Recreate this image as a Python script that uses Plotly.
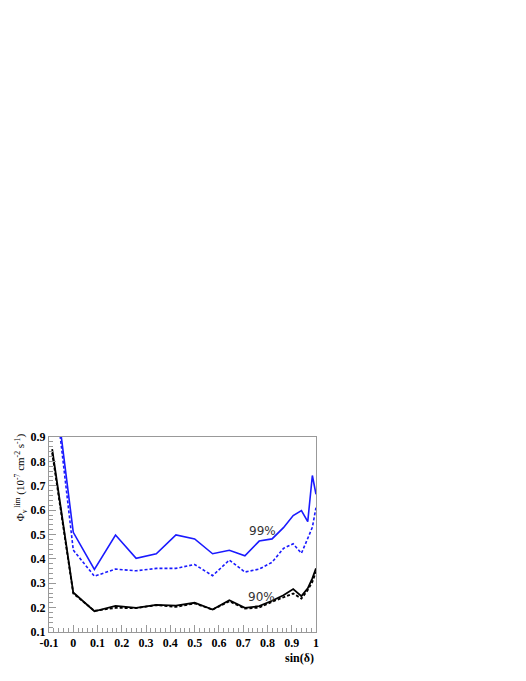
import plotly.graph_objects as go

sin_delta = [-0.087, 0.0, 0.087, 0.174, 0.259, 0.342, 0.423, 0.5, 0.574, 0.643,
             0.707, 0.766, 0.819, 0.866, 0.906, 0.940, 0.966, 0.985, 1.0]

lim99_solid = [1.20, 0.509, 0.357, 0.498, 0.402, 0.421, 0.498, 0.482, 0.421, 0.435,
               0.413, 0.473, 0.482, 0.528, 0.578, 0.598, 0.553, 0.742, 0.665]
lim99_dash = [1.19, 0.436, 0.329, 0.358, 0.351, 0.361, 0.361, 0.377, 0.331, 0.395,
              0.346, 0.358, 0.386, 0.443, 0.462, 0.423, 0.484, 0.53, 0.61]
lim90_solid = [0.85, 0.262, 0.185, 0.207, 0.199, 0.211, 0.208, 0.220, 0.192, 0.230,
               0.199, 0.206, 0.228, 0.251, 0.276, 0.247, 0.279, 0.32, 0.361]
lim90_dash = [0.835, 0.258, 0.187, 0.199, 0.198, 0.210, 0.203, 0.217, 0.192, 0.226,
              0.196, 0.200, 0.224, 0.244, 0.258, 0.237, 0.272, 0.306, 0.347]

x_ticks = [-0.1, 0, 0.1, 0.2, 0.3, 0.4, 0.5, 0.6, 0.7, 0.8, 0.9, 1]
x_ticklabels = ["-0.1", "0", "0.1", "0.2", "0.3", "0.4", "0.5", "0.6", "0.7", "0.8", "0.9", "1"]
y_ticks = [0.1, 0.2, 0.3, 0.4, 0.5, 0.6, 0.7, 0.8, 0.9]
y_ticklabels = ["0.1", "0.2", "0.3", "0.4", "0.5", "0.6", "0.7", "0.8", "0.9"]

BLUE = "#1a1aff"
fig = go.Figure()
fig.add_trace(go.Scatter(x=sin_delta, y=lim99_dash, mode="lines",
                         line=dict(color=BLUE, width=1.6, dash="3px,2px")))
fig.add_trace(go.Scatter(x=sin_delta, y=lim99_solid, mode="lines",
                         line=dict(color=BLUE, width=1.6)))
fig.add_trace(go.Scatter(x=sin_delta, y=lim90_dash, mode="lines",
                         line=dict(color="black", width=1.8, dash="3px,2px")))
fig.add_trace(go.Scatter(x=sin_delta, y=lim90_solid, mode="lines",
                         line=dict(color="black", width=1.8)))

tickfont = dict(family="Liberation Serif", size=12, color="black", weight="bold")
fig.update_xaxes(range=[-0.1, 1.0], tickvals=x_ticks, ticktext=x_ticklabels,
                 ticks="inside", ticklen=7, tickcolor="#999999", tickwidth=1,
                 minor=dict(dtick=0.02, tick0=0, ticks="inside", ticklen=4,
                            tickcolor="#999999"),
                 showline=True, linecolor="#999999", linewidth=1, mirror=True,
                 showgrid=False, zeroline=False, tickfont=tickfont)
fig.update_yaxes(range=[0.1, 0.9], tickvals=y_ticks, ticktext=y_ticklabels,
                 ticks="inside", ticklen=7, tickcolor="#999999", tickwidth=1,
                 minor=dict(dtick=0.02, tick0=0.1, ticks="inside", ticklen=4,
                            tickcolor="#999999"),
                 showline=True, linecolor="#999999", linewidth=1, mirror=True,
                 showgrid=False, zeroline=False, tickfont=tickfont)

fig.add_annotation(x=0.778, y=0.514, text="99%", showarrow=False,
                   font=dict(family="DejaVu Sans", size=12, color="#333333"))
fig.add_annotation(x=0.776, y=0.244, text="90%", showarrow=False,
                   font=dict(family="DejaVu Sans", size=12, color="#333333"))
fig.add_annotation(xref="paper", yref="paper", x=1.0, y=-0.085, xanchor="right",
                   yanchor="top", text="sin(δ)", showarrow=False,
                   font=dict(family="Liberation Serif", size=12, color="black", weight="bold"))
fig.add_annotation(xref="paper", yref="paper", x=0, xshift=-38, y=1.03, yanchor="top",
                   textangle=-90, showarrow=False,
                   text="Φ<sub>ν</sub><sup> lim</sup> (10<sup>-7</sup> cm<sup>-2</sup> s<sup>-1</sup>)",
                   font=dict(family="Liberation Serif", size=11, color="black"))

fig.update_layout(width=526, height=681, showlegend=False,
                  margin=dict(l=41, r=218, t=429, b=57),
                  plot_bgcolor="white", paper_bgcolor="white")
fig.write_html("out.html")
